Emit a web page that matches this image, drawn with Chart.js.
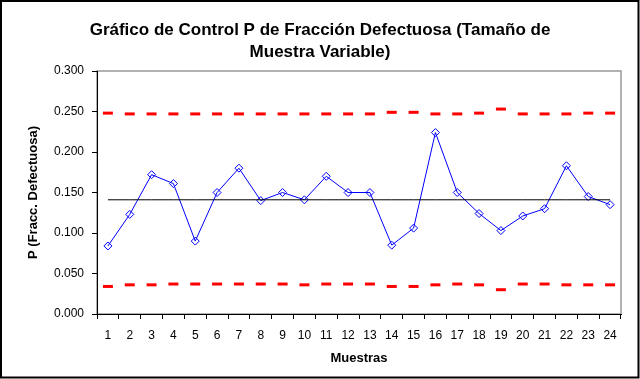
<!DOCTYPE html>
<html>
<head>
<meta charset="utf-8">
<script src="https://cdn.jsdelivr.net/npm/chart.js@4/dist/chart.umd.min.js"></script>
<style>
html,body{margin:0;padding:0;background:#fff;}
#wrap{width:640px;height:379px;}
</style>
</head>
<body>
<div id="wrap"><canvas id="c" width="640" height="379"></canvas></div>
<script>
const categories = ["1","2","3","4","5","6","7","8","9","10","11","12","13","14","15","16","17","18","19","20","21","22","23","24"];
const pValues   = [0.084,0.123,0.172,0.161,0.090,0.150,0.180,0.140,0.150,0.141,0.170,0.150,0.150,0.085,0.106,0.224,0.150,0.124,0.103,0.121,0.130,0.183,0.145,0.135];
const centerLine = [0.141,0.141,0.141,0.141,0.141,0.141,0.141,0.141,0.141,0.141,0.141,0.141,0.141,0.141,0.141,0.141,0.141,0.141,0.141,0.141,0.141,0.141,0.141,0.141];
const uclValues = [0.248,0.247,0.247,0.247,0.247,0.247,0.247,0.247,0.247,0.247,0.247,0.247,0.247,0.249,0.249,0.247,0.247,0.248,0.253,0.247,0.247,0.247,0.248,0.248];
const lclValues = [0.034,0.036,0.036,0.037,0.037,0.037,0.037,0.037,0.037,0.036,0.037,0.037,0.037,0.034,0.034,0.036,0.037,0.036,0.030,0.037,0.037,0.036,0.036,0.036];
const yTicks = [0, 0.05, 0.10, 0.15, 0.20, 0.25, 0.30];

const FONT = "'Liberation Sans', Arial, sans-serif";

const framePlugin = {
  id: 'frame',
  beforeDraw(chart) {
    const ctx = chart.ctx, a = chart.chartArea;
    ctx.save();
    ctx.fillStyle = '#ffffff';
    ctx.fillRect(0, 0, chart.width, chart.height);
    ctx.strokeStyle = '#999999';
    ctx.lineWidth = 1.5;
    ctx.strokeRect(a.left, a.top, a.right - a.left, a.bottom - a.top);
    ctx.restore();
  },
  afterDraw(chart) {
    const ctx = chart.ctx;
    ctx.save();
    ctx.strokeStyle = '#000000';
    ctx.lineWidth = 2;
    ctx.strokeRect(1, 1, chart.width - 2.5, chart.height - 2.5);
    ctx.restore();
  }
};

new Chart(document.getElementById('c'), {
  type: 'line',
  data: {
    labels: categories,
    datasets: [
      {
        label: 'LCS',
        data: uclValues,
        showLine: false,
        pointStyle: 'line',
        pointRadius: 5,
        pointHoverRadius: 5,
        borderColor: '#ff0000',
        backgroundColor: '#ff0000',
        pointBorderWidth: 3,
        borderWidth: 3
      },
      {
        label: 'LCI',
        data: lclValues,
        showLine: false,
        pointStyle: 'line',
        pointRadius: 5,
        pointHoverRadius: 5,
        borderColor: '#ff0000',
        backgroundColor: '#ff0000',
        pointBorderWidth: 3,
        borderWidth: 3
      },
      {
        label: 'LC',
        data: centerLine,
        borderColor: '#000000',
        borderWidth: 1,
        pointRadius: 0,
        tension: 0
      },
      {
        label: 'P',
        data: pValues,
        borderColor: '#0000ff',
        borderWidth: 1,
        pointStyle: 'rectRot',
        pointRadius: 4,
        pointBorderWidth: 1,
        pointBorderColor: '#0000ff',
        pointBackgroundColor: 'rgba(255,255,255,0)',
        tension: 0
      }
    ]
  },
  options: {
    responsive: false,
    animation: false,
    events: [],
    layout: { padding: { left: 0, right: 0, top: 0, bottom: 0 } },
    plugins: {
      legend: { display: false },
      tooltip: { enabled: false },
      title: {
        display: true,
        text: ['Gráfico de Control P de Fracción Defectuosa (Tamaño de', 'Muestra Variable)'],
        color: '#000000',
        font: { family: FONT, size: 17, weight: 'bold', lineHeight: 1.3 },
        padding: { top: 19, bottom: 7.8 }
      }
    },
    scales: {
      x: {
        type: 'category',
        offset: true,
        grid: { display: true, drawOnChartArea: false, drawTicks: true, tickLength: 5, offset: true, color: '#000000', lineWidth: 1 },
        border: { display: true, color: '#000000', width: 1 },
        ticks: { color: '#000000', font: { family: FONT, size: 12 }, padding: 9, maxRotation: 0, autoSkip: false },
        title: { display: true, text: 'Muestras', color: '#000000', font: { family: FONT, size: 13, weight: 'bold' }, padding: { top: 4, bottom: 13 } },
        afterFit(scale) { scale.height = 65; }
      },
      y: {
        min: 0,
        max: 0.3,
        afterBuildTicks(scale) { scale.ticks = yTicks.map(v => ({ value: v })); },
        grid: { display: true, drawOnChartArea: false, drawTicks: true, tickLength: 5, color: '#000000', lineWidth: 1 },
        border: { display: true, color: '#000000', width: 1 },
        ticks: { color: '#000000', font: { family: FONT, size: 12 }, padding: 8, callback: v => Number(v).toFixed(3) },
        title: { display: true, text: 'P (Fracc. Defectuosa)', color: '#000000', font: { family: FONT, size: 13, weight: 'bold' }, padding: { top: 26, bottom: 4 } },
        afterFit(scale) { scale.width = 97; }
      },
      yRight: {
        position: 'right',
        min: 0,
        max: 0.3,
        grid: { display: false, drawOnChartArea: false },
        border: { display: false },
        ticks: { display: false },
        afterFit(scale) { scale.width = 19; }
      }
    }
  },
  plugins: [framePlugin]
});
</script>
</body>
</html>
